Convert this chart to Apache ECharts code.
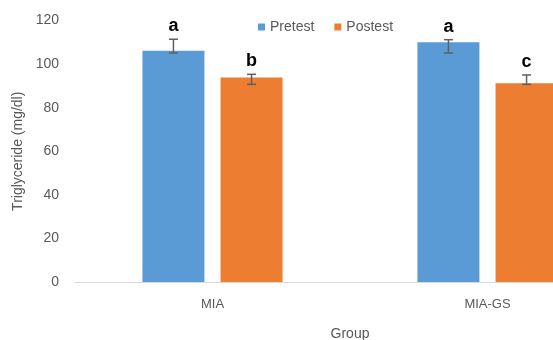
<!DOCTYPE html>
<html>
<head>
<meta charset="utf-8">
<script src="https://cdn.jsdelivr.net/npm/echarts@6/dist/echarts.min.js"></script>
<style>
	html, body { margin: 0; padding: 0; background: #fff; overflow: hidden; }
	/* 原图右侧被裁切，图表画布比窗口宽 */
	#chart { width: 625px; height: 340px; }
</style>
</head>
<body>
<div id="chart"></div>
<script>
// 数据
var categories = ['MIA', 'MIA-GS'];
var pretest = [106.1, 110.0];
var postest = [93.8, 91.2];
var pretestErrLow = [105.1, 105.1];
var pretestErrHigh = [111.4, 111.2];
var postestErrLow = [90.7, 90.7];
var postestErrHigh = [95.3, 95.0];
var pretestLetters = ['a', 'a'];
var postestLetters = ['b', 'c'];

var FONT = '"Liberation Sans", Arial, sans-serif';
var BAR_W = 62, BAR_GAP = 0.26;

//误差线 + 字母
function errSeries(low, high, letters, side){
	var data = categories.map(function(c, i){ return [i, low[i], high[i], letters[i]]; });
	return {
		type: 'custom',
		data: data,
		z: 10,
		renderItem: function(params, api){
			var off = side * BAR_W * (1 + BAR_GAP) / 2;
			var p1 = api.coord([api.value(0), api.value(1)]);
			var p2 = api.coord([api.value(0), api.value(2)]);
			var x = p1[0] + off, cap = 4.5;
			var st = { stroke: '#5f5f5f', lineWidth: 1.5 };
			return {
				type: 'group',
				children: [
					{ type: 'line', shape: { x1: x, y1: p1[1], x2: x, y2: p2[1] }, style: st },
					{ type: 'line', shape: { x1: x - cap, y1: p1[1], x2: x + cap, y2: p1[1] }, style: st },
					{ type: 'line', shape: { x1: x - cap, y1: p2[1], x2: x + cap, y2: p2[1] }, style: st },
					{ type: 'text', x: x, y: p2[1] - 13, style: {
						text: letters[params.dataIndex], fill: '#000', font: 'bold 18px ' + FONT,
						align: 'center', verticalAlign: 'middle'
					}}
				]
			};
		}
	};
}

var chart = echarts.init(document.getElementById('chart'));
chart.setOption({
	animation: false,
	textStyle: { fontFamily: FONT },
	grid: { left: 75, right: 0, top: 20.5, bottom: 58, outerBoundsMode: 'none' },
	legend: {
		data: ['Pretest', 'Postest'],
		left: 253, top: 15,
		icon: 'rect', itemWidth: 7, itemHeight: 7, itemGap: 20,
		textStyle: { color: '#595959', fontSize: 14, fontFamily: FONT }
	},
	xAxis: {
		type: 'category',
		data: categories,
		name: 'Group',
		nameLocation: 'middle',
		nameGap: 45,
		nameTextStyle: { color: '#595959', fontSize: 14 },
		axisLine: { lineStyle: { color: '#d9d9d9', width: 1 } },
		axisTick: { show: false },
		axisLabel: { color: '#595959', fontSize: 13, margin: 16 }
	},
	yAxis: {
		type: 'value',
		min: 0, max: 120, interval: 20,
		name: 'Triglyceride (mg/dl)',
		nameLocation: 'middle',
		nameGap: 45,
		nameTextStyle: { color: '#595959', fontSize: 14 },
		axisLine: { show: false },
		axisTick: { show: false },
		splitLine: { show: false },
		axisLabel: { color: '#595959', fontSize: 14, margin: 16 }
	},
	series: [
		{ name: 'Pretest', type: 'bar', data: pretest, barWidth: BAR_W, barGap: (BAR_GAP * 100) + '%',
			itemStyle: { color: '#5b9bd5' } },
		{ name: 'Postest', type: 'bar', data: postest, barWidth: BAR_W,
			itemStyle: { color: '#ed7d31' } },
		errSeries(pretestErrLow, pretestErrHigh, pretestLetters, -1),
		errSeries(postestErrLow, postestErrHigh, postestLetters, 1)
	]
});
</script>
</body>
</html>
